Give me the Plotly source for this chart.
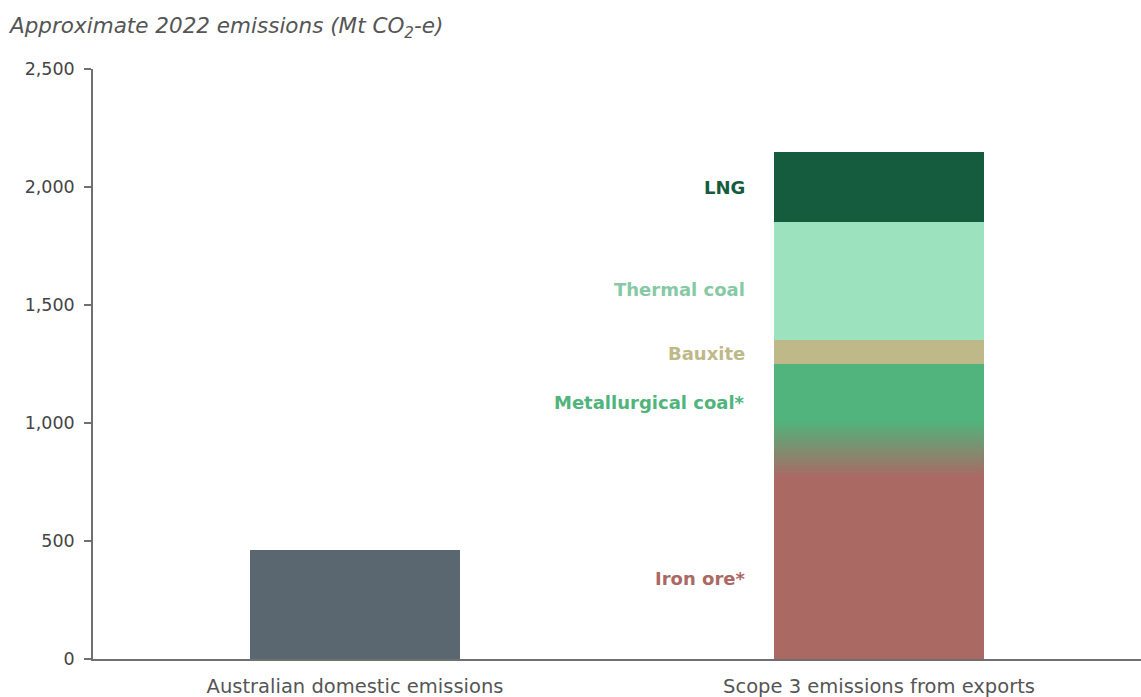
import plotly.graph_objects as go

# ---------------- data ----------------
categories = ["Australian domestic emissions", "Scope 3 emissions from exports"]
domestic_value = 460
segments = ["Iron ore*", "Metallurgical coal*", "Bauxite", "Thermal coal", "LNG"]
segment_values = [890, 360, 100, 500, 300]
blend_low = 770      # iron ore / met coal overlap band
blend_high = 1010
y_ticks = [0, 500, 1000, 1500, 2000, 2500]

# ---------------- style ----------------
seg_colors = ["#AB6964", "#50B47C", "#BFB888", "#9DE2BE", "#155C3F"]
label_colors = ["#AB6964", "#50B47C", "#BFB888", "#86C9A4", "#155C3F"]
label_y = [340, 1085, 1295, 1565, 2000]
domestic_color = "#5B6770"
bar_w = 0.4
FONT = "DejaVu Sans"

fig = go.Figure()
fig.add_trace(go.Bar(x=[0], y=[domestic_value], width=bar_w,
                     marker=dict(color=domestic_color, line=dict(width=0)),
                     showlegend=False, hoverinfo="skip"))
for name, val, col in zip(segments, segment_values, seg_colors):
    fig.add_trace(go.Bar(x=[1], y=[val], width=bar_w, name=name,
                         marker=dict(color=col, line=dict(width=0)),
                         showlegend=False, hoverinfo="skip"))

# gradient band between iron ore and metallurgical coal
xl, xr = 1 - bar_w / 2, 1 + bar_w / 2
fig.add_trace(go.Scatter(
    x=[xl, xr, xr, xl, xl], y=[blend_low, blend_low, blend_high, blend_high, blend_low],
    mode="none", fill="toself",
    fillgradient=dict(type="vertical", colorscale=[[0, seg_colors[0]], [1, seg_colors[1]]],
                      start=blend_low, stop=blend_high),
    showlegend=False, hoverinfo="skip"))

for name, ly, lc in zip(segments, label_y, label_colors):
    fig.add_annotation(x=xl, y=ly, xref="x", yref="y", text="<b>" + name + "</b>",
                       showarrow=False, xanchor="right", yanchor="middle", xshift=-27,
                       font=dict(family=FONT, size=18, color=lc))

fig.add_annotation(x=0, y=1, xref="paper", yref="paper", xanchor="left", yanchor="middle",
                   text="<i>Approximate 2022 emissions (Mt CO<sub>2</sub>-e)</i>",
                   showarrow=False, xshift=-87, yshift=42,
                   font=dict(family=FONT, size=21.5, color="#555555"))

fig.update_layout(
    width=1141, height=697, barmode="stack", bargap=0.6,
    margin=dict(l=93, r=0, t=69, b=38),
    plot_bgcolor="white", paper_bgcolor="white",
    xaxis=dict(range=[-0.5, 1.5], tickvals=[0, 1], ticktext=categories,
               showline=True, linecolor="#707070", linewidth=1.5, ticks="",
               showgrid=False, zeroline=False, automargin=False,
               ticklabelstandoff=9,
               tickfont=dict(family=FONT, size=19.5, color="#555555")),
    yaxis=dict(range=[0, 2500], tickvals=y_ticks, tickformat=",",
               showline=True, linecolor="#707070", linewidth=1.5,
               ticks="outside", ticklen=7, tickwidth=1.5, tickcolor="#707070",
               showgrid=False, zeroline=False, automargin=False,
               ticklabelstandoff=6,
               tickfont=dict(family=FONT, size=17.5, color="#444444")),
)

fig.write_html("out.html")
